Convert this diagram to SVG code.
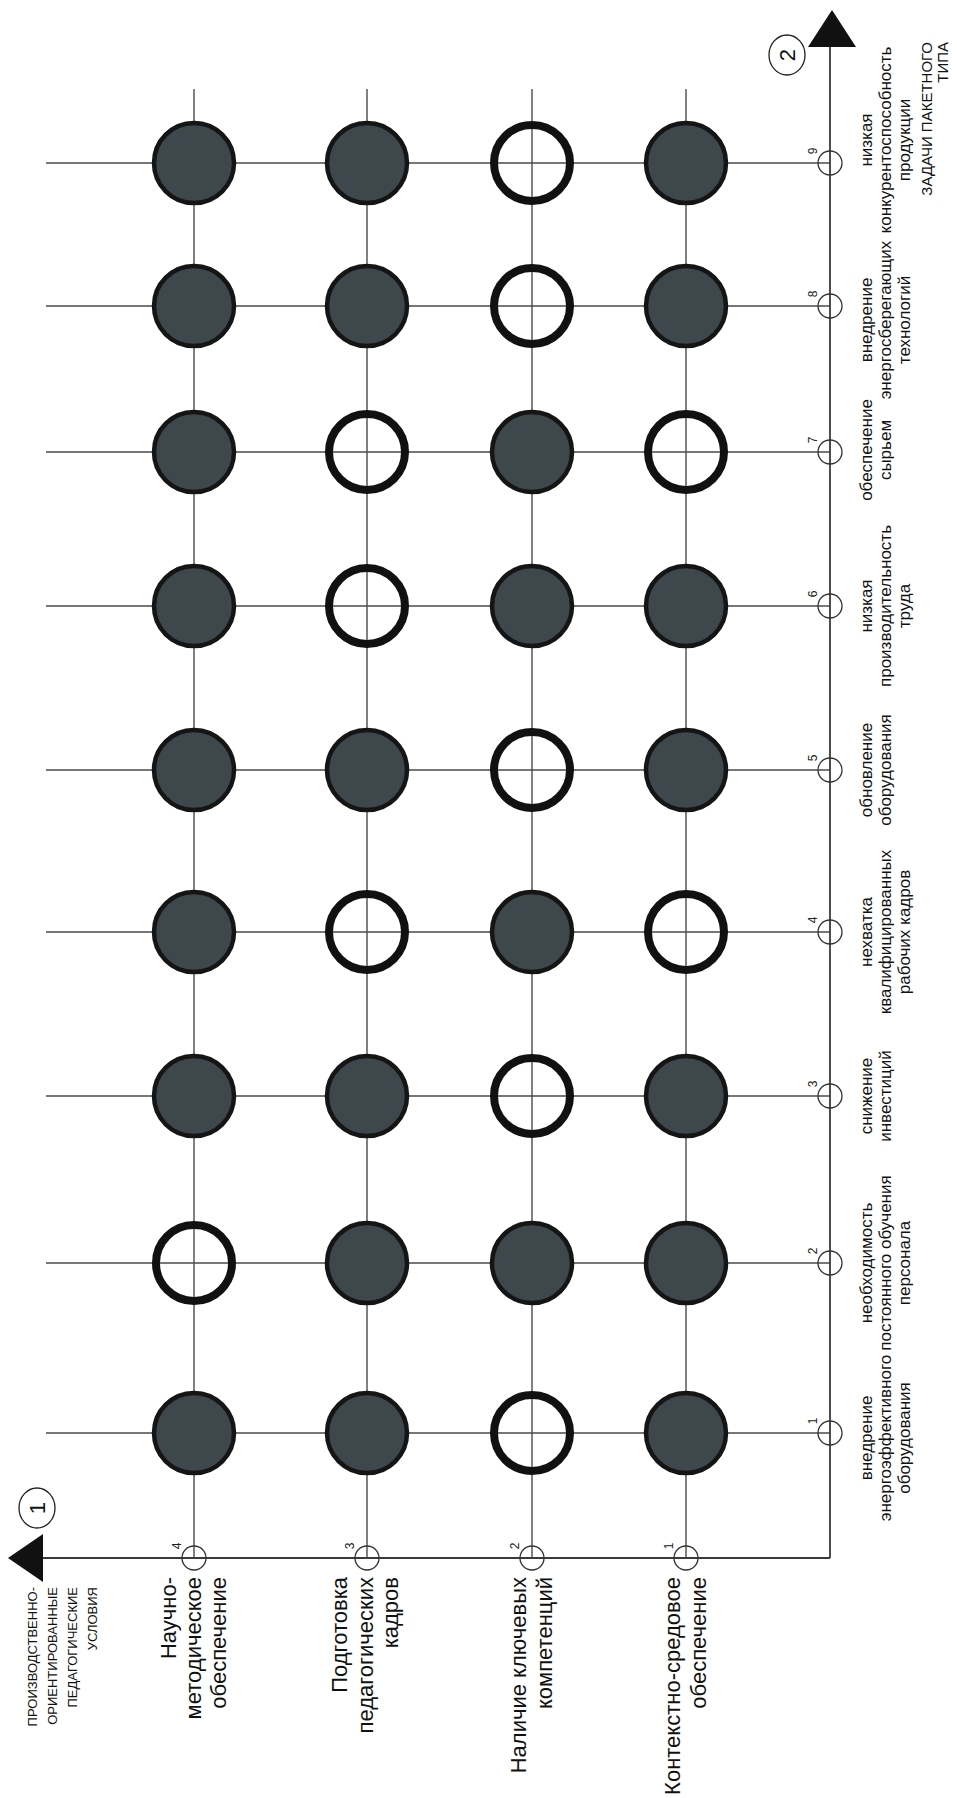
<svg xmlns="http://www.w3.org/2000/svg" width="957" height="1798" viewBox="0 0 957 1798">
<defs>
<style>
.ln{stroke:#4a4a4a;stroke-width:1.4;fill:none}
.ax{stroke:#3a3a3a;stroke-width:1.8;fill:none}
.full{fill:#3e474c;stroke:#151515;stroke-width:4.5}
.hol{fill:none;stroke:#111;stroke-width:8}
.tk{fill:none;stroke:#333;stroke-width:1.3}
.num{font-family:"Liberation Sans",Arial,sans-serif;font-size:12px;fill:#222;text-anchor:middle}
.big{font-family:"Liberation Sans",Arial,sans-serif;font-size:22px;fill:#111;text-anchor:end}
.ttl{font-family:"Liberation Sans",Arial,sans-serif;font-size:13px;fill:#111;text-anchor:end}
.ttl2{font-family:"Liberation Sans",Arial,sans-serif;font-size:15px;fill:#111;text-anchor:end}
.lbl{font-family:"Liberation Sans",Arial,sans-serif;font-size:17px;fill:#111;text-anchor:middle}
.cnum{font-family:"Liberation Sans",Arial,sans-serif;font-size:22px;fill:#111;text-anchor:middle}
</style>
</defs>
<rect width="957" height="1798" fill="#ffffff"/>
<g id="connectors">
<line class="ln" x1="194" y1="89" x2="194" y2="1558"/>
<line class="ln" x1="367" y1="89" x2="367" y2="1558"/>
<line class="ln" x1="532" y1="89" x2="532" y2="1558"/>
<line class="ln" x1="686" y1="89" x2="686" y2="1558"/>
<line class="ln" x1="46" y1="1433" x2="830" y2="1433"/>
<line class="ln" x1="46" y1="1263" x2="830" y2="1263"/>
<line class="ln" x1="46" y1="1096" x2="830" y2="1096"/>
<line class="ln" x1="46" y1="932" x2="830" y2="932"/>
<line class="ln" x1="46" y1="770" x2="830" y2="770"/>
<line class="ln" x1="46" y1="606" x2="830" y2="606"/>
<line class="ln" x1="46" y1="452" x2="830" y2="452"/>
<line class="ln" x1="46" y1="306" x2="830" y2="306"/>
<line class="ln" x1="46" y1="163" x2="830" y2="163"/>
</g>
<g id="axis1">
<line class="ax" x1="40" y1="1558" x2="830" y2="1558"/>
<polygon points="8,1558 43,1534 43,1582" fill="#111"/>
<ellipse cx="37" cy="1508" rx="18" ry="20" fill="#fff" stroke="#222" stroke-width="1.3"/>
<text class="cnum" transform="translate(45,1508) rotate(-90)">1</text>
<text class="ttl" transform="translate(37,1587) rotate(-90)"><tspan x="0" y="0">ПРОИЗВОДСТВЕННО-</tspan><tspan x="0" y="20">ОРИЕНТИРОВАННЫЕ</tspan><tspan x="0" y="40">ПЕДАГОГИЧЕСКИЕ</tspan><tspan x="0" y="60">УСЛОВИЯ</tspan></text>
</g>
<g id="axis2">
<line class="ax" x1="830" y1="40" x2="830" y2="1558"/>
<polygon points="832,10 808,47 856,47" fill="#111"/>
<ellipse cx="787" cy="55" rx="18" ry="20" fill="#fff" stroke="#222" stroke-width="1.3"/>
<text class="cnum" transform="translate(795,55) rotate(-90)">2</text>
<text class="ttl2" transform="translate(932,42) rotate(-90)"><tspan x="0" y="0">ЗАДАЧИ ПАКЕТНОГО</tspan><tspan x="0" y="16">ТИПА</tspan></text>
</g>
<g id="cond-4">
<circle class="tk" cx="194" cy="1558" r="12"/>
<text class="num" transform="translate(181,1546) rotate(-90)">4</text>
<text class="big" transform="translate(176,1577) rotate(-90)"><tspan x="0" y="0">Научно-</tspan><tspan x="0" y="25">методическое</tspan><tspan x="0" y="50">обеспечение</tspan></text>
</g>
<g id="cond-3">
<circle class="tk" cx="367" cy="1558" r="12"/>
<text class="num" transform="translate(354,1546) rotate(-90)">3</text>
<text class="big" transform="translate(347,1577) rotate(-90)"><tspan x="0" y="0">Подготовка</tspan><tspan x="0" y="25.5">педагогических</tspan><tspan x="0" y="51">кадров</tspan></text>
</g>
<g id="cond-2">
<circle class="tk" cx="532" cy="1558" r="12"/>
<text class="num" transform="translate(519,1546) rotate(-90)">2</text>
<text class="big" transform="translate(526,1577) rotate(-90)"><tspan x="0" y="0">Наличие ключевых</tspan><tspan x="0" y="26">компетенций</tspan></text>
</g>
<g id="cond-1">
<circle class="tk" cx="686" cy="1558" r="12"/>
<text class="num" transform="translate(673,1546) rotate(-90)">1</text>
<text class="big" transform="translate(680,1577) rotate(-90)"><tspan x="0" y="0">Контекстно-средовое</tspan><tspan x="0" y="26">обеспечение</tspan></text>
</g>
<g id="task-1">
<circle class="tk" cx="830" cy="1433" r="12"/>
<text class="num" transform="translate(817,1421) rotate(-90)">1</text>
<text class="lbl" transform="translate(872,1438) rotate(-90)"><tspan x="0" y="0">внедрение</tspan><tspan x="0" y="19">энергоэффективного</tspan><tspan x="0" y="38">оборудования</tspan></text>
</g>
<g id="task-2">
<circle class="tk" cx="830" cy="1263" r="12"/>
<text class="num" transform="translate(817,1251) rotate(-90)">2</text>
<text class="lbl" transform="translate(872,1263) rotate(-90)"><tspan x="0" y="0">необходимость</tspan><tspan x="0" y="19">постоянного обучения</tspan><tspan x="0" y="38">персонала</tspan></text>
</g>
<g id="task-3">
<circle class="tk" cx="830" cy="1096" r="12"/>
<text class="num" transform="translate(817,1084) rotate(-90)">3</text>
<text class="lbl" transform="translate(872,1096) rotate(-90)"><tspan x="0" y="0">снижение</tspan><tspan x="0" y="19">инвестиций</tspan></text>
</g>
<g id="task-4">
<circle class="tk" cx="830" cy="932" r="12"/>
<text class="num" transform="translate(817,920) rotate(-90)">4</text>
<text class="lbl" transform="translate(872,932) rotate(-90)"><tspan x="0" y="0">нехватка</tspan><tspan x="0" y="19">квалифицированных</tspan><tspan x="0" y="38">рабочих кадров</tspan></text>
</g>
<g id="task-5">
<circle class="tk" cx="830" cy="770" r="12"/>
<text class="num" transform="translate(817,758) rotate(-90)">5</text>
<text class="lbl" transform="translate(872,770) rotate(-90)"><tspan x="0" y="0">обновление</tspan><tspan x="0" y="19">оборудования</tspan></text>
</g>
<g id="task-6">
<circle class="tk" cx="830" cy="606" r="12"/>
<text class="num" transform="translate(817,594) rotate(-90)">6</text>
<text class="lbl" transform="translate(872,606) rotate(-90)"><tspan x="0" y="0">низкая</tspan><tspan x="0" y="19">производительность</tspan><tspan x="0" y="38">труда</tspan></text>
</g>
<g id="task-7">
<circle class="tk" cx="830" cy="452" r="12"/>
<text class="num" transform="translate(817,440) rotate(-90)">7</text>
<text class="lbl" transform="translate(872,450) rotate(-90)"><tspan x="0" y="0">обеспечение</tspan><tspan x="0" y="19">сырьем</tspan></text>
</g>
<g id="task-8">
<circle class="tk" cx="830" cy="306" r="12"/>
<text class="num" transform="translate(817,294) rotate(-90)">8</text>
<text class="lbl" transform="translate(872,320) rotate(-90)"><tspan x="0" y="0">внедрение</tspan><tspan x="0" y="19">энергосберегающих</tspan><tspan x="0" y="38">технологий</tspan></text>
</g>
<g id="task-9">
<circle class="tk" cx="830" cy="163" r="12"/>
<text class="num" transform="translate(817,151) rotate(-90)">9</text>
<text class="lbl" transform="translate(872,140) rotate(-90)"><tspan x="0" y="0">низкая</tspan><tspan x="0" y="19">конкурентоспособность</tspan><tspan x="0" y="38">продукции</tspan></text>
</g>
<g id="grid">
<g id="r1"><circle class="full" cx="194" cy="1433" r="40"/><circle class="full" cx="367" cy="1433" r="40"/><circle class="hol" cx="532" cy="1433" r="38"/><circle class="full" cx="686" cy="1433" r="40"/></g>
<g id="r2"><circle class="hol" cx="194" cy="1263" r="38"/><circle class="full" cx="367" cy="1263" r="40"/><circle class="full" cx="532" cy="1263" r="40"/><circle class="full" cx="686" cy="1263" r="40"/></g>
<g id="r3"><circle class="full" cx="194" cy="1096" r="40"/><circle class="full" cx="367" cy="1096" r="40"/><circle class="hol" cx="532" cy="1096" r="38"/><circle class="full" cx="686" cy="1096" r="40"/></g>
<g id="r4"><circle class="full" cx="194" cy="932" r="40"/><circle class="hol" cx="367" cy="932" r="38"/><circle class="full" cx="532" cy="932" r="40"/><circle class="hol" cx="686" cy="932" r="38"/></g>
<g id="r5"><circle class="full" cx="194" cy="770" r="40"/><circle class="full" cx="367" cy="770" r="40"/><circle class="hol" cx="532" cy="770" r="38"/><circle class="full" cx="686" cy="770" r="40"/></g>
<g id="r6"><circle class="full" cx="194" cy="606" r="40"/><circle class="hol" cx="367" cy="606" r="38"/><circle class="full" cx="532" cy="606" r="40"/><circle class="full" cx="686" cy="606" r="40"/></g>
<g id="r7"><circle class="full" cx="194" cy="452" r="40"/><circle class="hol" cx="367" cy="452" r="38"/><circle class="full" cx="532" cy="452" r="40"/><circle class="hol" cx="686" cy="452" r="38"/></g>
<g id="r8"><circle class="full" cx="194" cy="306" r="40"/><circle class="full" cx="367" cy="306" r="40"/><circle class="hol" cx="532" cy="306" r="38"/><circle class="full" cx="686" cy="306" r="40"/></g>
<g id="r9"><circle class="full" cx="194" cy="163" r="40"/><circle class="full" cx="367" cy="163" r="40"/><circle class="hol" cx="532" cy="163" r="38"/><circle class="full" cx="686" cy="163" r="40"/></g>
</g>
</svg>
